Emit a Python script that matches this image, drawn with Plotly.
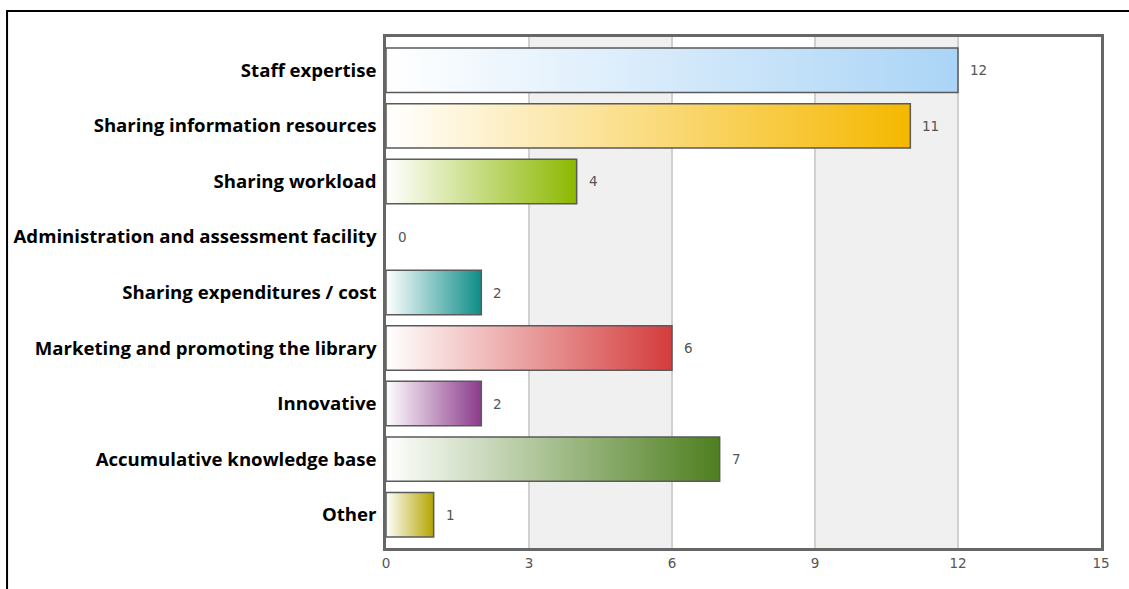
import plotly.graph_objects as go

categories = [
    "Staff expertise",
    "Sharing information resources",
    "Sharing workload",
    "Administration and assessment facility",
    "Sharing expenditures / cost",
    "Marketing and promoting the library",
    "Innovative",
    "Accumulative knowledge base",
    "Other",
]
values = [12, 11, 4, 0, 2, 6, 2, 7, 1]
bar_colors = ["#aad4f6", "#f5b800", "#8cb800", "#7f7f7f", "#0d8d88",
              "#d43c3c", "#8b3a8b", "#4e7f1f", "#b5a500"]
x_ticks = [0, 3, 6, 9, 12, 15]

BAR_W = 0.8
fig = go.Figure()

for i, (cat, v, c) in enumerate(zip(categories, values, bar_colors)):
    if v <= 0:
        continue
    y0, y1 = i - BAR_W / 2, i + BAR_W / 2
    fig.add_trace(go.Scatter(
        x=[0, v, v, 0, 0],
        y=[y0, y0, y1, y1, y0],
        mode="lines",
        fill="toself",
        fillgradient=dict(type="horizontal",
                          colorscale=[[0, "rgba(255,255,255,1)"], [1, c]]),
        line=dict(color="#5a5a5a", width=1.5),
        name=cat,
        showlegend=False,
        hoverinfo="skip",
    ))

annotations = []
for i, v in enumerate(values):
    annotations.append(dict(
        x=v, y=i, xref="x", yref="y", text=str(v), showarrow=False,
        xanchor="left", yanchor="middle", xshift=10,
        font=dict(family="DejaVu Sans, Verdana, sans-serif", size=13.5, color="#555555"),
    ))

shapes = []
# alternating bands
for k in range(len(x_ticks) - 1):
    if k % 2 == 1:
        shapes.append(dict(type="rect", xref="x", yref="paper",
                           x0=x_ticks[k], x1=x_ticks[k + 1], y0=0, y1=1,
                           fillcolor="#f0f0f0", line=dict(width=0), layer="below"))
# outer frame
shapes.append(dict(type="rect", xref="paper", yref="paper",
                   x0=-0.530, x1=1.2, y0=-0.2, y1=1.051,
                   line=dict(color="#000000", width=2), fillcolor="rgba(0,0,0,0)",
                   layer="above"))

fig.update_layout(
    width=1129, height=589,
    margin=dict(l=386, r=28, t=37, b=41),
    paper_bgcolor="white",
    plot_bgcolor="white",
    showlegend=False,
    annotations=annotations,
    shapes=shapes,
    xaxis=dict(
        range=[0, 15], tickvals=x_ticks, ticktext=[str(t) for t in x_ticks],
        showgrid=True, gridcolor="#d0d0d0", gridwidth=1.5,
        zeroline=False,
        showline=True, linecolor="#666666", linewidth=2.5, mirror=True,
        ticks="", ticklabelstandoff=1,
        tickfont=dict(family="DejaVu Sans, Verdana, sans-serif", size=13.5, color="#555555"),
        fixedrange=True,
    ),
    yaxis=dict(
        range=[len(categories) - 1 + 0.6, -0.6],
        tickvals=list(range(len(categories))), ticktext=categories,
        showgrid=False, zeroline=False,
        showline=True, linecolor="#666666", linewidth=2.5, mirror=True,
        ticks="", ticklabelstandoff=3,
        tickfont=dict(family="Open Sans, sans-serif", size=18.6, color="#000000",
                      weight="bold"),
        fixedrange=True,
    ),
)

fig.write_html("out.html", config={"displayModeBar": False},
               post_script="document.body.style.margin='0';document.body.style.overflow='hidden';")
